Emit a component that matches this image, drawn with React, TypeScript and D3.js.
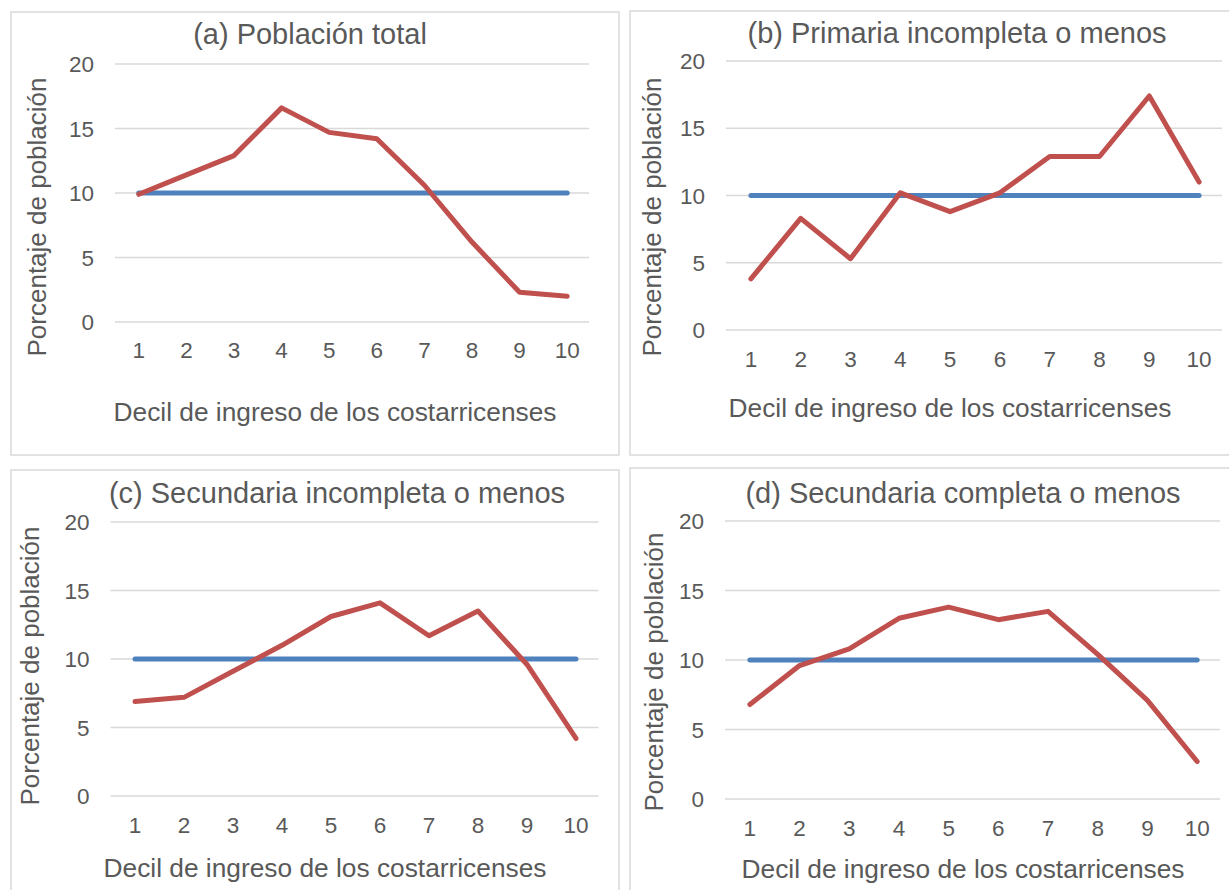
import * as d3 from 'd3'

const deciles = ['1', '2', '3', '4', '5', '6', '7', '8', '9', '10']
const yTicks = [0, 5, 10, 15, 20]

const equalShare = [10, 10, 10, 10, 10, 10, 10, 10, 10, 10]
const totalPop = [9.9, 11.4, 12.9, 16.6, 14.7, 14.2, 10.6, 6.2, 2.3, 2.0]
const primariaIncompleta = [3.8, 8.3, 5.3, 10.2, 8.8, 10.2, 12.9, 12.9, 17.4, 11.0]
const secundariaIncompleta = [6.9, 7.2, 9.1, 11.0, 13.1, 14.1, 11.7, 13.5, 9.6, 4.2]
const secundariaCompleta = [6.8, 9.6, 10.8, 13.0, 13.8, 12.9, 13.5, 10.4, 7.1, 2.7]

const titles = [
    '(a) Población total',
    '(b) Primaria incompleta o menos',
    '(c) Secundaria incompleta o menos',
    '(d) Secundaria completa o menos'
]
const xTitle = 'Decil de ingreso de los costarricenses'
const yTitle = 'Porcentaje de población'

const textColour = '#595959'
const gridColour = '#d9d9d9'
const blue = '#4f81bd'
const red = '#c0504d'
const font = '"Liberation Sans", Arial, sans-serif'

// layout of each panel (frame, plot area, text positions)
const panels = [
    {
        values: totalPop,
        frame: { x0: 11, x1: 619, y0: 12, y1: 455 },
        plot: { x0: 115, x1: 591, y0: 64, y1: 322 },
        titleX: 310, titleY: 44,
        xLabelY: 358, xTitleX: 335, xTitleY: 421,
        yTitleX: 46, yTitleY: 217
    },
    {
        values: primariaIncompleta,
        frame: { x0: 630, x1: 1234, y0: 11, y1: 455 },
        plot: { x0: 726, x1: 1224, y0: 61, y1: 330 },
        titleX: 957, titleY: 43,
        xLabelY: 367, xTitleX: 950, xTitleY: 417,
        yTitleX: 661, yTitleY: 217
    },
    {
        values: secundariaIncompleta,
        frame: { x0: 11, x1: 619, y0: 470, y1: 895 },
        plot: { x0: 110.5, x1: 600.5, y0: 522, y1: 796 },
        titleX: 337, titleY: 503,
        xLabelY: 833, xTitleX: 325, xTitleY: 877,
        yTitleX: 39, yTitleY: 666
    },
    {
        values: secundariaCompleta,
        frame: { x0: 630, x1: 1234, y0: 468, y1: 895 },
        plot: { x0: 725, x1: 1222, y0: 521, y1: 799 },
        titleX: 963, titleY: 503,
        xLabelY: 836, xTitleX: 963, xTitleY: 878,
        yTitleX: 663, yTitleY: 672
    }
]

type Panel = typeof panels[number]

const Chart = ({ p, title }: { p: Panel, title: string }) => {
    const x = d3.scaleBand().domain(deciles).range([p.plot.x0, p.plot.x1])
    const y = d3.scaleLinear().domain([0, 20]).range([p.plot.y1, p.plot.y0])
    const cx = (d: string) => (x(d) as number) + x.bandwidth() / 2

    const line = d3.line<number>()
        .x((_, i) => cx(deciles[i]))
        .y(v => y(v))

    return (
        <g>
            <rect
                x={p.frame.x0}
                y={p.frame.y0}
                width={p.frame.x1 - p.frame.x0}
                height={p.frame.y1 - p.frame.y0}
                fill='white'
                stroke={gridColour}
                strokeWidth={1.5}
            />
            <text x={p.titleX} y={p.titleY} textAnchor='middle' fontSize={29} fill={textColour}>
                {title}
            </text>
            {yTicks.map(t => (
                <g key={t}>
                    <line x1={p.plot.x0} x2={p.plot.x1 - 2} y1={y(t)} y2={y(t)} stroke={gridColour} strokeWidth={1.5} />
                    <text
                        x={p.plot.x0 - 21}
                        y={y(t)}
                        dy='0.36em'
                        textAnchor='end'
                        fontSize={22.5}
                        fill={textColour}
                    >
                        {t}
                    </text>
                </g>
            ))}
            {deciles.map(d => (
                <text key={d} x={cx(d)} y={p.xLabelY} textAnchor='middle' fontSize={22.5} fill={textColour}>
                    {d}
                </text>
            ))}
            <text x={p.xTitleX} y={p.xTitleY} textAnchor='middle' fontSize={26.3} fill={textColour}>
                {xTitle}
            </text>
            <text
                transform={`translate(${p.yTitleX},${p.yTitleY}) rotate(-90)`}
                textAnchor='middle'
                fontSize={26}
                fill={textColour}
            >
                {yTitle}
            </text>
            <path d={line(equalShare) ?? ''} fill='none' stroke={blue} strokeWidth={5} strokeLinecap='round' strokeLinejoin='round' />
            <path d={line(p.values) ?? ''} fill='none' stroke={red} strokeWidth={5} strokeLinecap='round' strokeLinejoin='round' />
        </g>
    )
}

const App = () => {
    return (
        <div style={{ position: 'absolute', left: 0, top: 0 }}>
            <svg width={1229} height={890} style={{ display: 'block', fontFamily: font }}>
                <rect width={1229} height={890} fill='white' />
                {panels.map((p, i) => (
                    <Chart key={i} p={p} title={titles[i]} />
                ))}
            </svg>
        </div>
    )
}

export default App
